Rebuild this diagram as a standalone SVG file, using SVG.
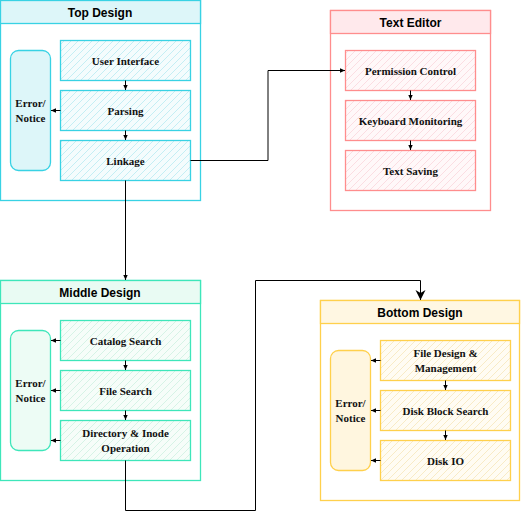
<svg xmlns="http://www.w3.org/2000/svg" width="521" height="520" viewBox="0 0 521 520">
<defs>
<pattern id="hc" width="7" height="7" patternUnits="userSpaceOnUse"><rect width="7" height="7" fill="#f4fcfd"/><path d="M-1,1 l2,-2 M0,7 l7,-7 M6,8 l2,-2" stroke="#c4eef4" stroke-width="1"/></pattern>
<pattern id="hr" width="7" height="7" patternUnits="userSpaceOnUse"><rect width="7" height="7" fill="#fff8f9"/><path d="M-1,1 l2,-2 M0,7 l7,-7 M6,8 l2,-2" stroke="#fbdde2" stroke-width="1"/></pattern>
<pattern id="hg" width="7" height="7" patternUnits="userSpaceOnUse"><rect width="7" height="7" fill="#f6fdf9"/><path d="M-1,1 l2,-2 M0,7 l7,-7 M6,8 l2,-2" stroke="#d6f3e6" stroke-width="1"/></pattern>
<pattern id="hy" width="7" height="7" patternUnits="userSpaceOnUse"><rect width="7" height="7" fill="#fffcf3"/><path d="M-1,1 l2,-2 M0,7 l7,-7 M6,8 l2,-2" stroke="#f8ebc6" stroke-width="1"/></pattern>
<marker id="a" markerWidth="6" markerHeight="6" refX="5" refY="3" orient="auto" markerUnits="userSpaceOnUse"><path d="M0,0.8 L5,3 L0,5.2 Z" fill="#000"/></marker>
<marker id="ab" markerWidth="12" markerHeight="12" refX="10" refY="5" orient="auto" markerUnits="userSpaceOnUse"><path d="M0,0 L10,5 L0,10 L3,5 Z" fill="#000"/></marker>
</defs>
<style>
.title{font-family:"Liberation Sans",Arial,sans-serif;font-weight:bold;font-size:12px;text-anchor:middle;fill:#000}
.lbl{font-family:"Liberation Serif","Times New Roman",serif;font-weight:bold;font-size:11px;text-anchor:middle;fill:#111}
.cy{stroke:#38d2e4;stroke-width:1.3}
.rd{stroke:#ff8d8d;stroke-width:1.3}
.gn{stroke:#3ee6ba;stroke-width:1.3}
.yl{stroke:#ffd04c;stroke-width:1.3}
.c{fill:none;stroke:#000;stroke-width:1}
</style>

<g id="top-design">
<rect x="0.5" y="0.5" width="200" height="200" fill="#fff" class="cy"/>
<rect x="0.5" y="0.5" width="200" height="23" fill="#ddf6f9" class="cy"/>
<text x="100" y="17" class="title">Top Design</text>
</g>
<g id="top-error"><rect x="10.5" y="50.5" width="40" height="120" rx="8" fill="#ddf6f9" class="cy"/><text x="30.5" y="107" class="lbl">Error/</text><text x="30.5" y="122" class="lbl">Notice</text></g>
<g id="user-interface"><rect x="60.5" y="40.5" width="130" height="40" fill="url(#hc)" class="cy"/><text x="125.5" y="64.5" class="lbl">User Interface</text></g>
<g id="parsing"><rect x="60.5" y="90.5" width="130" height="40" fill="url(#hc)" class="cy"/><text x="125.5" y="114.5" class="lbl">Parsing</text></g>
<g id="linkage"><rect x="60.5" y="140.5" width="130" height="40" fill="url(#hc)" class="cy"/><text x="125.5" y="164.5" class="lbl">Linkage</text></g>

<g id="text-editor">
<rect x="330.5" y="10.5" width="160" height="200" fill="#fff" class="rd"/>
<rect x="330.5" y="10.5" width="160" height="23" fill="#ffe9ec" class="rd"/>
<text x="410.5" y="27" class="title">Text Editor</text>
</g>
<g id="permission-control"><rect x="345.5" y="50.5" width="130" height="40" fill="url(#hr)" class="rd"/><text x="410.5" y="74.5" class="lbl">Permission Control</text></g>
<g id="keyboard-monitoring"><rect x="345.5" y="100.5" width="130" height="40" fill="url(#hr)" class="rd"/><text x="410.5" y="124.5" class="lbl">Keyboard Monitoring</text></g>
<g id="text-saving"><rect x="345.5" y="150.5" width="130" height="40" fill="url(#hr)" class="rd"/><text x="410.5" y="174.5" class="lbl">Text Saving</text></g>

<g id="middle-design">
<rect x="0.5" y="280.5" width="200" height="200" fill="#fff" class="gn"/>
<rect x="0.5" y="280.5" width="200" height="23" fill="#e9fbf3" class="gn"/>
<text x="100" y="297" class="title">Middle Design</text>
</g>
<g id="middle-error"><rect x="10.5" y="330.5" width="40" height="120" rx="8" fill="#edfcf5" class="gn"/><text x="30.5" y="387" class="lbl">Error/</text><text x="30.5" y="402" class="lbl">Notice</text></g>
<g id="catalog-search"><rect x="60.5" y="320.5" width="130" height="40" fill="url(#hg)" class="gn"/><text x="125.5" y="344.5" class="lbl">Catalog Search</text></g>
<g id="file-search"><rect x="60.5" y="370.5" width="130" height="40" fill="url(#hg)" class="gn"/><text x="125.5" y="394.5" class="lbl">File Search</text></g>
<g id="directory-inode"><rect x="60.5" y="420.5" width="130" height="40" fill="url(#hg)" class="gn"/><text x="125.5" y="437" class="lbl">Directory &amp; Inode</text><text x="125.5" y="452" class="lbl">Operation</text></g>

<g id="bottom-design">
<rect x="320.5" y="300.5" width="199" height="200" fill="#fff" class="yl"/>
<rect x="320.5" y="300.5" width="199" height="23" fill="#fff7e2" class="yl"/>
<text x="420" y="317" class="title">Bottom Design</text>
</g>
<g id="bottom-error"><rect x="330.5" y="350.5" width="40" height="120" rx="8" fill="#fff6df" class="yl"/><text x="350.5" y="407" class="lbl">Error/</text><text x="350.5" y="422" class="lbl">Notice</text></g>
<g id="file-design"><rect x="380.5" y="340.5" width="130" height="40" fill="url(#hy)" class="yl"/><text x="445.5" y="357" class="lbl">File Design &amp;</text><text x="445.5" y="372" class="lbl">Management</text></g>
<g id="disk-block-search"><rect x="380.5" y="390.5" width="130" height="40" fill="url(#hy)" class="yl"/><text x="445.5" y="414.5" class="lbl">Disk Block Search</text></g>
<g id="disk-io"><rect x="380.5" y="440.5" width="130" height="40" fill="url(#hy)" class="yl"/><text x="445.5" y="464.5" class="lbl">Disk IO</text></g>

<g id="connectors">
<path class="c" d="M125.5,80.5 V90" marker-end="url(#a)"/>
<path class="c" d="M125.5,130.5 V140" marker-end="url(#a)"/>
<path class="c" d="M60.5,110.5 H51" marker-end="url(#a)"/>
<path class="c" d="M125.5,180.5 V280" marker-end="url(#a)"/>
<path class="c" d="M190.5,160.5 H268 V70.5 H345" marker-end="url(#a)"/>
<path class="c" d="M410.5,90.5 V100" marker-end="url(#a)"/>
<path class="c" d="M410.5,140.5 V150" marker-end="url(#a)"/>
<path class="c" d="M125.5,360.5 V370" marker-end="url(#a)"/>
<path class="c" d="M125.5,410.5 V420" marker-end="url(#a)"/>
<path class="c" d="M60.5,340.5 H51" marker-end="url(#a)"/>
<path class="c" d="M60.5,390.5 H51" marker-end="url(#a)"/>
<path class="c" d="M60.5,440.5 H51" marker-end="url(#a)"/>
<path class="c" d="M125.5,460.5 V510.5 H255.5 V280.5 H420.5 V300" marker-end="url(#ab)"/>
<path class="c" d="M445.5,380.5 V390" marker-end="url(#a)"/>
<path class="c" d="M445.5,430.5 V440" marker-end="url(#a)"/>
<path class="c" d="M380.5,360.5 H371" marker-end="url(#a)"/>
<path class="c" d="M380.5,410.5 H371" marker-end="url(#a)"/>
<path class="c" d="M380.5,460.5 H371" marker-end="url(#a)"/>
</g>
</svg>
